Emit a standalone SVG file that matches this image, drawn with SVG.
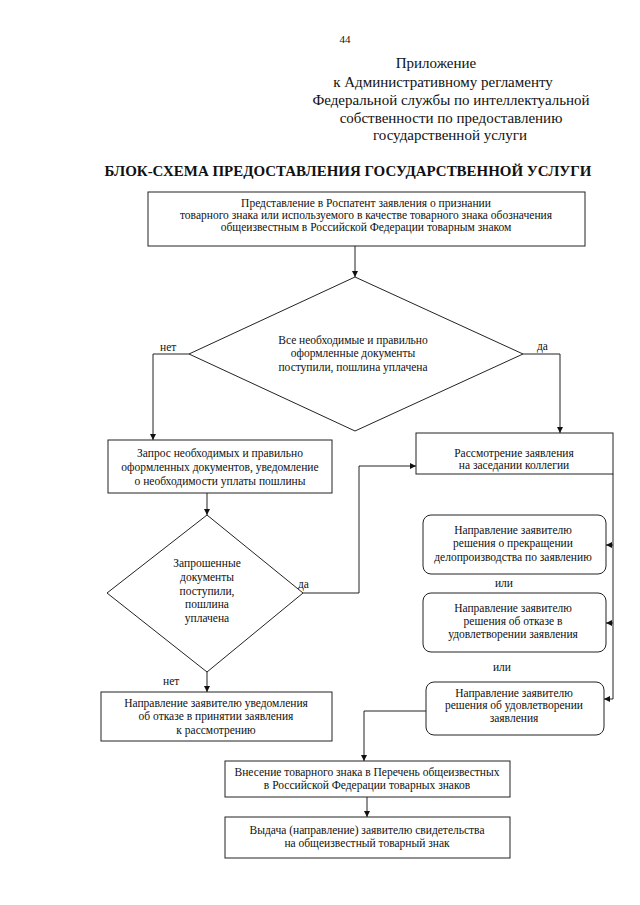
<svg xmlns="http://www.w3.org/2000/svg" width="640" height="905" viewBox="0 0 640 905">
<defs>
<style>
text{font-family:"Liberation Serif","Times New Roman",serif;fill:#111;}
.h{font-size:15px;text-anchor:middle;}
.t{font-size:11.5px;text-anchor:middle;}
.l{font-size:11.5px;}
.ti{font-size:15.5px;font-weight:bold;text-anchor:middle;}
.b{fill:#fff;stroke:#222;stroke-width:1;}
.c{fill:none;stroke:#222;stroke-width:1;}
</style>
<marker id="a" viewBox="0 0 6 6" markerWidth="6" markerHeight="6" refX="6" refY="3" orient="auto" markerUnits="userSpaceOnUse"><path d="M0,0 L6,3 L0,6 z" fill="#111"/></marker>
</defs>
<rect width="640" height="905" fill="#fff"/>
<g id="header">
<text x="345" y="43" style="font-size:11px" text-anchor="middle">44</text>
<text class="h" x="436" y="68">Приложение</text>
<text class="h" x="443" y="87">к Административному регламенту</text>
<text class="h" x="451" y="105">Федеральной службы по интеллектуальной</text>
<text class="h" x="451" y="123">собственности по предоставлению</text>
<text class="h" x="450" y="140">государственной услуги</text>
<text class="ti" x="348" y="176" textLength="487" lengthAdjust="spacingAndGlyphs">БЛОК-СХЕМА ПРЕДОСТАВЛЕНИЯ ГОСУДАРСТВЕННОЙ УСЛУГИ</text>
</g>
<g id="connectors">
<path class="c" d="M355,246 V277" marker-end="url(#a)"/>
<path class="c" d="M189,354 H153 V440" marker-end="url(#a)"/>
<path class="c" d="M523,354 H560 V433" marker-end="url(#a)"/>
<path class="c" d="M207,493 V515" marker-end="url(#a)"/>
<path class="c" d="M303,593 H359 V466 H416" marker-end="url(#a)"/>
<path class="c" d="M207,672 V692" marker-end="url(#a)"/>
<path class="c" d="M613,474 V699 H604" marker-end="url(#a)"/>
<path class="c" d="M613,545 H606" marker-end="url(#a)"/>
<path class="c" d="M613,623 H606" marker-end="url(#a)"/>
<path class="c" d="M426,711 H364 V761" marker-end="url(#a)"/>
<path class="c" d="M367,797 V817" marker-end="url(#a)"/>
<text class="l" x="160" y="351">нет</text>
<text class="l" x="537" y="350">да</text>
<text class="l" x="298" y="588">да</text>
<text class="l" x="163" y="685">нет</text>
<text class="t" x="504" y="587">или</text>
<text class="t" x="502" y="671">или</text>
</g>
<g id="n1">
<rect class="b" x="148" y="192" width="437" height="54"/>
<text class="t" x="366" y="207">Представление в Роспатент заявления о признании</text>
<text class="t" x="366" y="219">товарного знака или используемого в качестве товарного знака обозначения</text>
<text class="t" x="366" y="231">общеизвестным в Российской Федерации товарным знаком</text>
</g>
<g id="d1">
<polygon class="b" points="355,277 523,354 355,431 189,354"/>
<text class="t" x="353" y="344">Все необходимые и правильно</text>
<text class="t" x="353" y="357">оформленные документы</text>
<text class="t" x="353" y="371">поступили, пошлина уплачена</text>
</g>
<g id="n2">
<rect class="b" x="108" y="440" width="224" height="53"/>
<text class="t" x="220" y="457">Запрос необходимых и правильно</text>
<text class="t" x="220" y="471">оформленных документов, уведомление</text>
<text class="t" x="220" y="485">о необходимости уплаты пошлины</text>
</g>
<g id="d2">
<polygon class="b" points="207,515 303,593 207,672 107,593"/>
<text class="t" x="207" y="567">Запрошенные</text>
<text class="t" x="207" y="581">документы</text>
<text class="t" x="207" y="595">поступили,</text>
<text class="t" x="207" y="608">пошлина</text>
<text class="t" x="207" y="622">уплачена</text>
</g>
<g id="n3">
<rect class="b" x="101" y="692" width="231" height="49"/>
<text class="t" x="216" y="707">Направление заявителю уведомления</text>
<text class="t" x="216" y="720">об отказе в принятии заявления</text>
<text class="t" x="216" y="734">к рассмотрению</text>
</g>
<g id="n4">
<rect class="b" x="416" y="433" width="197" height="41"/>
<text class="t" x="514" y="457">Рассмотрение заявления</text>
<text class="t" x="514" y="469">на заседании коллегии</text>
</g>
<g id="n5">
<rect class="b" x="423" y="515" width="183" height="59" rx="8"/>
<text class="t" x="513" y="534">Направление заявителю</text>
<text class="t" x="513" y="547">решения о прекращении</text>
<text class="t" x="513" y="561">делопроизводства по заявлению</text>
</g>
<g id="n6">
<rect class="b" x="423" y="593" width="183" height="59" rx="8"/>
<text class="t" x="513" y="612">Направление заявителю</text>
<text class="t" x="513" y="625">решения об отказе в</text>
<text class="t" x="513" y="638">удовлетворении заявления</text>
</g>
<g id="n7">
<rect class="b" x="426" y="682" width="178" height="53" rx="8"/>
<text class="t" x="514" y="697">Направление заявителю</text>
<text class="t" x="514" y="709">решения об удовлетворении</text>
<text class="t" x="514" y="722">заявления</text>
</g>
<g id="n8">
<rect class="b" x="225" y="761" width="285" height="36"/>
<text class="t" x="367" y="776">Внесение товарного знака в Перечень общеизвестных</text>
<text class="t" x="367" y="789">в Российской Федерации товарных знаков</text>
</g>
<g id="n9">
<rect class="b" x="225" y="817" width="285" height="41"/>
<text class="t" x="367" y="834">Выдача (направление) заявителю свидетельства</text>
<text class="t" x="367" y="847">на общеизвестный товарный знак</text>
</g>
</svg>
